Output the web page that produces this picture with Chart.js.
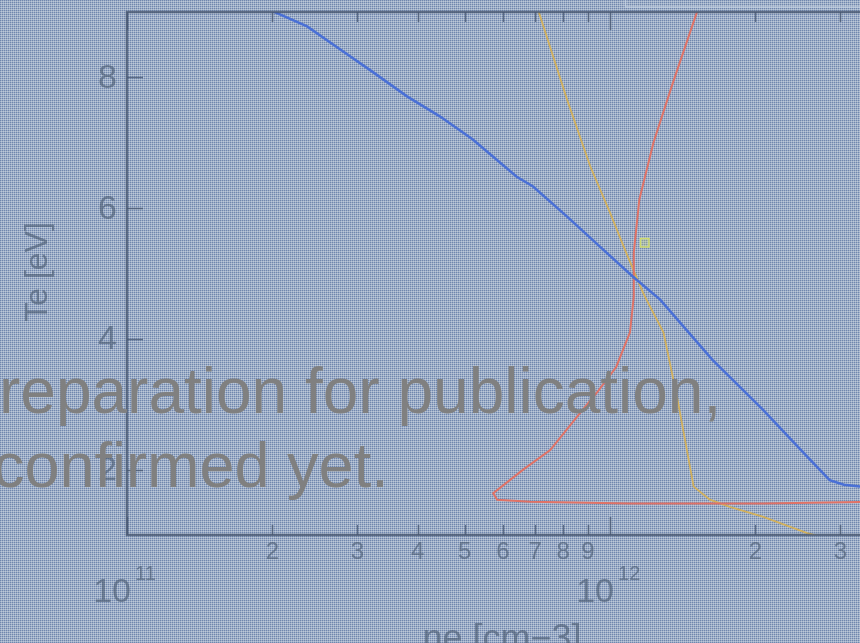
<!DOCTYPE html>
<html lang="en">
<head>
    <meta charset="UTF-8">
    <title>Te vs ne</title>
    <script src="https://cdn.jsdelivr.net/npm/chart.js"></script>
    <style>
        body {
            margin: 0;
            background-color: #9bacc6;
        }

        .chart-box {
            position: relative;
            width: 860px;
            height: 643px;
        }
    </style>
</head>
<body>
    <div class="chart-box">
        <canvas id="teChart"></canvas>
    </div>

    <script>
        // data: ne [cm-3] and Te [eV]
        const neBlue = [1.95e11, 2.36e11, 2.76e11, 3.23e11, 3.80e11, 4.45e11, 5.20e11, 6.41e11, 6.93e11, 8.15e11, 9.53e11, 1.116e12, 1.27e12, 1.63e12, 2.07e12, 2.56e12, 2.85e12, 3.05e12, 3.5e12];
        const teBlue = [9.05, 8.78, 8.43, 8.08, 7.71, 7.40, 7.05, 6.48, 6.33, 5.87, 5.41, 4.95, 4.60, 3.68, 2.92, 2.20, 1.84, 1.77, 1.72];

        const neRed = [1.53e12, 1.35e12, 1.23e12, 1.15e12, 1.12e12, 1.12e12, 1.10e12, 1.03e12, 9.4e11, 8.55e11, 7.52e11, 6.61e11, 5.73e11, 5.84e11, 6.83e11, 1.10e12, 2.07e12, 3.5e12];
        const teRed = [9.1, 7.92, 7.00, 6.13, 5.32, 4.65, 4.10, 3.57, 3.18, 2.81, 2.30, 2.00, 1.64, 1.54, 1.51, 1.48, 1.48, 1.51];

        const neYellow = [7.05e11, 8.15e11, 9.1e11, 1.0e12, 1.08e12, 1.17e12, 1.19e12, 1.29e12, 1.38e12, 1.49e12, 1.61e12, 1.77e12, 2.07e12, 2.56e12, 2.8e12];
        const teYellow = [9.1, 7.66, 6.64, 5.93, 5.32, 4.71, 4.60, 4.10, 3.07, 1.74, 1.54, 1.43, 1.28, 1.03, 0.95];

        const neMarker = [1.18e12];
        const teMarker = [5.47];

        // axis ticks
        const xMinorTicks = [2e11, 3e11, 4e11, 5e11, 6e11, 7e11, 8e11, 9e11, 2e12, 3e12];
        const xMinorLabels = ['2', '3', '4', '5', '6', '7', '8', '9', '2', '3'];
        const xDecades = [1e11, 1e12];
        const xDecadeExps = ['11', '12'];
        const yTicks = [2, 4, 6, 8];
        const yLabels = ['2', '4', '6', '8'];

        const toPoints = (xs, ys) => xs.map((x, i) => ({ x: x, y: ys[i] }));

        const inkColor = 'rgba(72, 88, 112, 0.62)';
        const labelFont = '"Liberation Sans", Arial, sans-serif';

        // dithered looking background
        function makeBgPattern(ctx) {
            const p = document.createElement('canvas');
            p.width = 2;
            p.height = 2;
            const pc = p.getContext('2d');
            pc.fillStyle = 'rgb(112,134,174)'; pc.fillRect(0, 0, 1, 1);
            pc.fillStyle = 'rgb(188,199,216)'; pc.fillRect(1, 1, 1, 1);
            pc.fillStyle = 'rgb(156,173,198)'; pc.fillRect(1, 0, 1, 1);
            pc.fillStyle = 'rgb(160,177,200)'; pc.fillRect(0, 1, 1, 1);
            return ctx.createPattern(p, 'repeat');
        }

        const backgroundPlugin = {
            id: 'bg',
            beforeDraw(chart) {
                const ctx = chart.ctx;
                ctx.save();
                ctx.fillStyle = makeBgPattern(ctx);
                ctx.fillRect(0, 0, chart.width, chart.height);
                ctx.restore();
            }
        };

        const framePlugin = {
            id: 'frame',
            afterDatasetsDraw(chart) {
                const ctx = chart.ctx;
                const a = chart.chartArea;
                const xs = chart.scales.x;
                const ys = chart.scales.y;
                ctx.save();
                ctx.strokeStyle = 'rgba(72, 88, 112, 0.8)';
                ctx.lineWidth = 2.5;
                // frame (right side is outside the picture)
                ctx.beginPath();
                ctx.moveTo(chart.width + 5, a.top);
                ctx.lineTo(a.left, a.top);
                ctx.lineTo(a.left, a.bottom);
                ctx.lineTo(chart.width + 5, a.bottom);
                ctx.stroke();

                ctx.lineWidth = 1.5;
                // x ticks, bottom and top, pointing inwards
                const xTick = (v, len) => {
                    const px = Math.round(xs.getPixelForValue(v)) + 0.5;
                    ctx.beginPath();
                    ctx.moveTo(px, a.bottom);
                    ctx.lineTo(px, a.bottom - len);
                    ctx.moveTo(px, a.top);
                    ctx.lineTo(px, a.top + len);
                    ctx.stroke();
                };
                xMinorTicks.forEach(v => xTick(v, 10));
                xDecades.forEach(v => xTick(v, 18));
                yTicks.forEach(v => {
                    const py = Math.round(ys.getPixelForValue(v)) + 0.5;
                    ctx.beginPath();
                    ctx.moveTo(a.left, py);
                    ctx.lineTo(a.left + 16, py);
                    ctx.stroke();
                });

                // tick labels
                ctx.fillStyle = inkColor;
                ctx.textBaseline = 'middle';
                ctx.textAlign = 'center';
                ctx.font = '24px ' + labelFont;
                xMinorTicks.forEach((v, i) => {
                    ctx.fillText(xMinorLabels[i], xs.getPixelForValue(v), a.bottom + 17);
                });
                xDecades.forEach((v, i) => {
                    const px = xs.getPixelForValue(v);
                    ctx.font = '34px ' + labelFont;
                    ctx.textAlign = 'right';
                    ctx.fillText('10', px + 4, a.bottom + 58);
                    ctx.font = '20px ' + labelFont;
                    ctx.textAlign = 'left';
                    ctx.fillText(xDecadeExps[i], px + 8, a.bottom + 39);
                });
                ctx.font = '34px ' + labelFont;
                ctx.textAlign = 'right';
                yTicks.forEach((v, i) => {
                    ctx.fillText(yLabels[i], a.left - 10, ys.getPixelForValue(v) + 1);
                });

                // axis titles
                ctx.textAlign = 'center';
                ctx.textBaseline = 'alphabetic';
                ctx.font = '36px ' + labelFont;
                ctx.fillText('ne [cm\u22123]', 502, 650);
                ctx.save();
                ctx.translate(47, 272);
                ctx.rotate(-Math.PI / 2);
                ctx.font = '32px ' + labelFont;
                ctx.fillText('Te [eV]', 0, 0);
                ctx.restore();

                // edge of a box at the top right
                ctx.strokeStyle = 'rgba(200, 212, 228, 0.7)';
                ctx.lineWidth = 1.5;
                ctx.strokeRect(625.5, -10, 260, 17);
                ctx.restore();
            }
        };

        const overlayPlugin = {
            id: 'overlay',
            afterDraw(chart) {
                const ctx = chart.ctx;
                ctx.save();
                ctx.fillStyle = 'rgb(128, 128, 128)';
                ctx.font = '64px ' + labelFont;
                ctx.textAlign = 'left';
                ctx.textBaseline = 'alphabetic';
                ctx.fillText('reparation for publication,', -1, 413);
                ctx.font = '63px ' + labelFont;
                ctx.fillText('confirmed yet.', -7, 487);
                ctx.restore();
            }
        };

        const ctx = document.getElementById('teChart').getContext('2d');
        const teChart = new Chart(ctx, {
            type: 'scatter',
            data: {
                datasets: [
                    {
                        label: 'blue',
                        data: toPoints(neBlue, teBlue),
                        showLine: true,
                        borderColor: 'rgb(74, 112, 214)',
                        borderWidth: 2.5,
                        pointRadius: 0
                    },
                    {
                        label: 'red',
                        data: toPoints(neRed, teRed),
                        showLine: true,
                        borderColor: 'rgb(224, 114, 102)',
                        borderWidth: 2,
                        pointRadius: 0
                    },
                    {
                        label: 'yellow',
                        data: toPoints(neYellow, teYellow),
                        showLine: true,
                        borderColor: 'rgb(210, 176, 92)',
                        borderWidth: 1.8,
                        pointRadius: 0
                    },
                    {
                        label: 'marker',
                        data: toPoints(neMarker, teMarker),
                        showLine: false,
                        pointStyle: 'rect',
                        pointRadius: 6,
                        borderColor: 'rgb(205, 218, 110)',
                        backgroundColor: 'rgba(205, 218, 110, 0.25)',
                        borderWidth: 1.5
                    }
                ]
            },
            options: {
                responsive: true,
                maintainAspectRatio: false,
                animation: false,
                layout: {
                    autoPadding: false,
                    padding: { left: 127, top: 12, right: 0, bottom: 108 }
                },
                plugins: {
                    legend: { display: false },
                    tooltip: { enabled: false }
                },
                scales: {
                    x: {
                        type: 'logarithmic',
                        min: 1e11,
                        max: 3.293e12,
                        display: false
                    },
                    y: {
                        type: 'linear',
                        min: 1,
                        max: 9,
                        display: false
                    }
                }
            },
            plugins: [backgroundPlugin, framePlugin, overlayPlugin]
        });
    </script>
</body>
</html>
